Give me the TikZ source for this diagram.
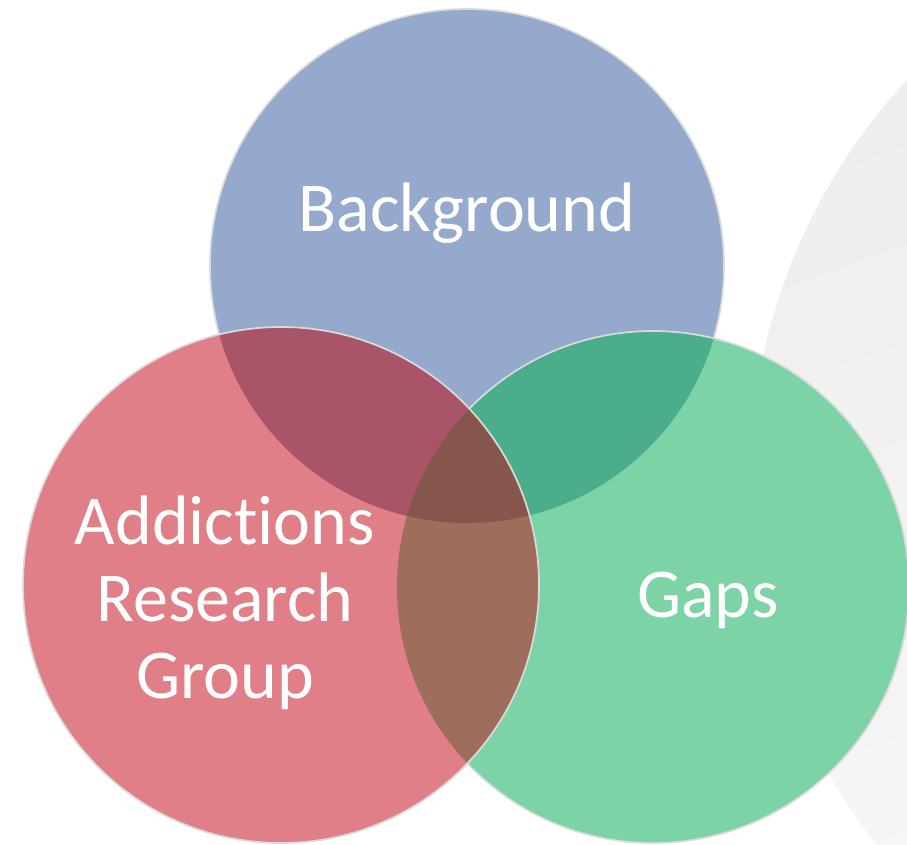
\documentclass[tikz,border=0pt]{standalone}
\usepackage{fontspec}
\setmainfont{Carlito}[Ligatures=NoCommon]
\usepackage{xcolor}
\usepackage{tikz}
\definecolor{bgblue}{HTML}{94A9CB}
\definecolor{argred}{HTML}{E07F88}
\definecolor{gapgreen}{HTML}{7CD3A5}
\definecolor{blueRed}{HTML}{AA5469}
\definecolor{blueGreen}{HTML}{4AAD8C}
\definecolor{redGreen}{HTML}{9E6D5C}
\definecolor{allThree}{HTML}{86564C}
\definecolor{rim}{HTML}{DADADA}
\tikzstyle{rimline} = [draw=rim, line width=1.3pt]
\tikzstyle{label} = [text=white, font=\fontsize{52.5}{57.75}\selectfont, align=center, anchor=base]

\begin{document}
\begin{tikzpicture}[x=0.75pt,y=0.75pt]
	\useasboundingbox (0,0) rectangle (907,844);
	\coordinate (bg) at (467,578);
	\coordinate (arg) at (281,259);
	\coordinate (gap) at (653,257);

	% grey disc behind
	\begin{scope}
		\clip (0,0) rectangle (907,844);
		\shade[top color=black!7, bottom color=black!2, shading angle=20] (1338,364) circle (588);
	\end{scope}

	% background
	\fill[bgblue] (bg) circle (257);
	\draw[rimline] (bg) circle (257);

	% gaps
	\fill[gapgreen] (gap) circle (256);
	\begin{scope}
		\clip (gap) circle (256);
		\fill[blueGreen] (bg) circle (257);
	\end{scope}
	\draw[rimline] (gap) circle (256);

	% addictions research group
	\fill[argred] (arg) circle (258);
	\begin{scope}
		\clip (arg) circle (258);
		\fill[blueRed] (bg) circle (257);
		\fill[redGreen] (gap) circle (256);
		\clip (gap) circle (256);
		\fill[allThree] (bg) circle (257);
	\end{scope}
	\draw[rimline] (arg) circle (258);

	\node[label] (bgtext) at (467,612) {Background};
	\node[label] (argtext) at (225,146) {Addictions\\Research\\Group};
	\node[label] (gaptext) at (708,227) {Gaps};
\end{tikzpicture}
\end{document}
